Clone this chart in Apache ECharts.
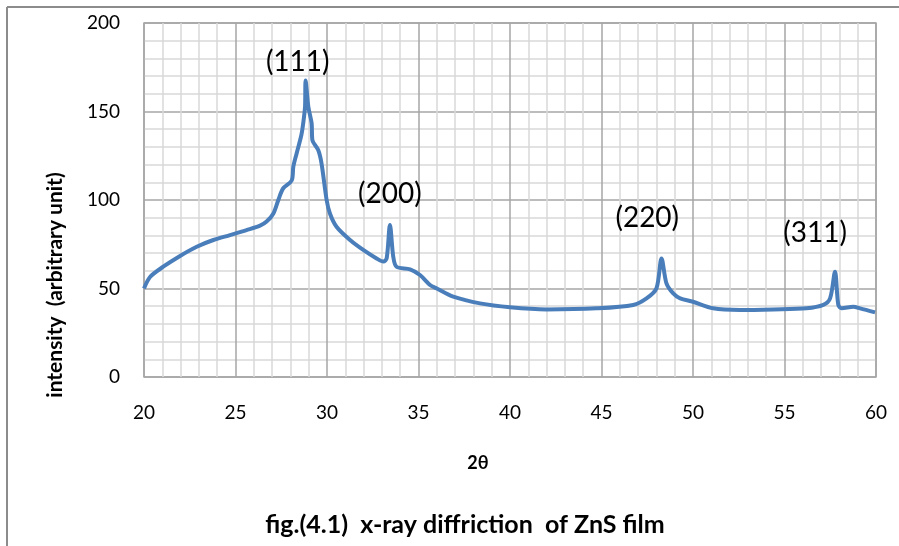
<!DOCTYPE html>
<html>
<head>
<meta charset="utf-8">
<script src="https://cdn.jsdelivr.net/npm/echarts@6/dist/echarts.min.js"></script>
<style>html,body{margin:0;padding:0;background:#fff;}#c{width:899px;height:546px;}</style>
</head>
<body>
<div id="c"></div>
<script>
var twoTheta = [20.0,20.33,21.05,21.97,22.88,23.79,24.7,25.6,26.34,26.7,27.07,27.34,27.6,28.07,28.16,28.34,28.6,28.7,28.8,28.83,28.98,29.16,29.2,29.52,29.7,29.98,30.16,30.52,31.26,31.98,32.71,33.08,33.26,33.44,33.62,33.8,34.54,35.08,35.63,36.0,36.9,38.36,40.0,42.0,44.73,46.73,47.46,48.0,48.28,48.55,48.92,49.3,50.0,51.1,52.57,54.4,56.2,57.12,57.49,57.76,57.94,58.12,58.76,59.13,59.95];
var intensity = [50,56.5,62.3,68.4,73.6,77.4,80.2,83,85.5,87.8,92.4,100,106.5,111,118.8,126.3,136.7,143.3,152.7,167.5,152.7,143.3,133.9,128.2,120.7,100,92.4,84.9,77.4,71.8,67,65.2,67,85.9,68,62.3,60.8,57.6,52,50,45.4,41.6,39.4,38.2,38.8,40.7,44.4,50,67,52.9,47.2,44.4,42.5,38.8,37.9,38.2,38.8,40.7,44.4,59.5,40.7,38.8,39.7,38.8,36.5];
var peakLabels = ['(111)','(200)','(220)','(311)'];
var peakLabelX = [28.4,33.44,47.5,56.67];
var peakLabelY = [178,103.4,89.8,81.4];
var xTicks = {min:20, max:60, interval:5};
var yTicks = {min:0, max:200, interval:50};

var pts = twoTheta.map(function(x,i){return [x,intensity[i]];});
var marks = peakLabels.map(function(t,i){return {coord:[peakLabelX[i],peakLabelY[i]], value:t};});
var font = 'Lato, "Open Sans", sans-serif';
var chart = echarts.init(document.getElementById('c'));
chart.setOption({
  animation:false,
  grid:{left:144,right:23,top:23,bottom:169,show:true,borderColor:'#a6a6a6',borderWidth:1.5},
  xAxis:{type:'value',min:xTicks.min,max:xTicks.max,interval:xTicks.interval,
    axisLine:{show:false},axisTick:{show:false},
    axisLabel:{margin:26,fontSize:19,color:'#000',fontFamily:font},
    splitLine:{show:true,lineStyle:{color:'#a6a6a6',width:1.5}},
    minorTick:{show:false,splitNumber:5},
    minorSplitLine:{show:true,lineStyle:{color:'#d9d9d9',width:1.5}}},
  yAxis:{type:'value',min:yTicks.min,max:yTicks.max,interval:yTicks.interval,
    axisLine:{show:false},axisTick:{show:false},
    axisLabel:{margin:24,fontSize:19,color:'#000',fontFamily:font},
    splitLine:{show:true,lineStyle:{color:'#a6a6a6',width:1.5}},
    minorTick:{show:false,splitNumber:5},
    minorSplitLine:{show:true,lineStyle:{color:'#d9d9d9',width:1.5}}},
  series:[{type:'line',data:pts,smooth:0.3,showSymbol:false,
    lineStyle:{color:'#4A7EBB',width:4},
    markPoint:{symbol:'circle',symbolSize:0,data:marks,
      label:{show:true,position:'inside',formatter:function(p){return p.value;},fontSize:28,color:'#000',fontFamily:font}}}],
  graphic:[
    {type:'line',shape:{x1:7,y1:7,x2:899,y2:7},style:{stroke:'#8c8c8c',lineWidth:2}},
    {type:'line',shape:{x1:7,y1:7,x2:7,y2:546},style:{stroke:'#8c8c8c',lineWidth:2}},
    {type:'text',x:478,y:463,style:{text:'2θ',fontSize:18,fontWeight:'bold',fill:'#000',fontFamily:font,textAlign:'center',textVerticalAlign:'middle'}},
    {type:'text',x:465,y:525,style:{text:'fig.(4.1)  x-ray diffriction  of ZnS film',fontSize:25,fontWeight:'bold',fill:'#000',fontFamily:font,textAlign:'center',textVerticalAlign:'middle'}},
    {type:'text',x:55,y:285,rotation:Math.PI/2,style:{text:'intensity  (arbitrary unit)',fontSize:21,fontWeight:'bold',fill:'#000',fontFamily:font,textAlign:'center',textVerticalAlign:'middle'}}
  ]
});
</script>
</body>
</html>
